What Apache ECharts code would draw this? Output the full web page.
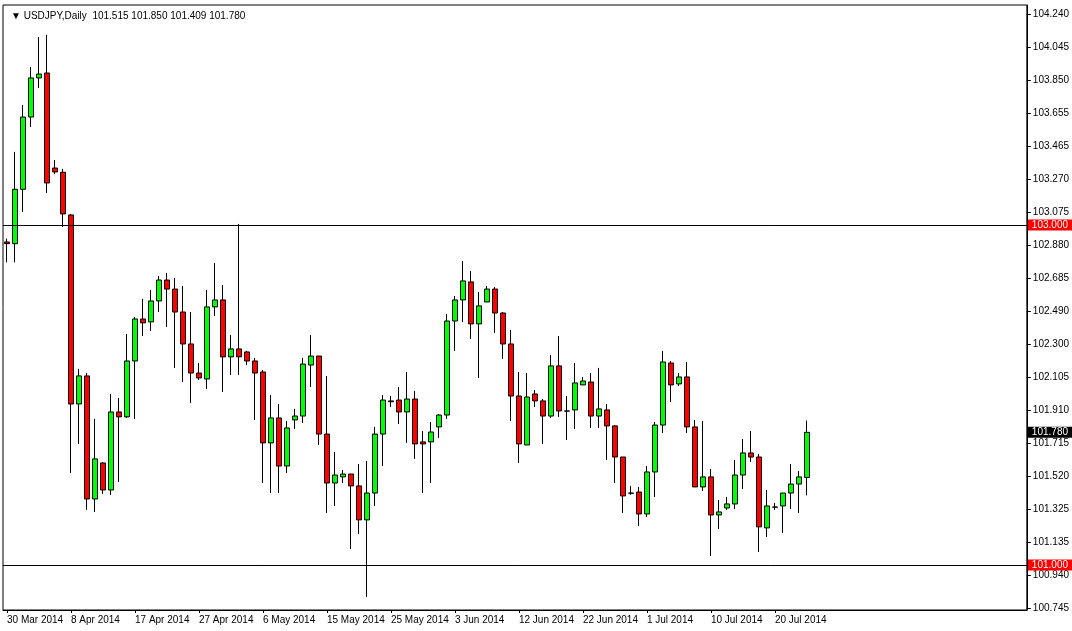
<!DOCTYPE html>
<html>
<head>
<meta charset="utf-8">
<script src="https://cdn.jsdelivr.net/npm/echarts@6/dist/echarts.min.js"></script>
<style>html,body{margin:0;padding:0;background:#fff}#chart{width:1072px;height:631px}</style>
</head>
<body>
<div id="chart"></div>
<script>
// daily bars [open, close, low, high]
var ohlc = [
  [102.90, 102.89, 102.78, 102.92],
  [102.89, 103.21, 102.78, 103.43],
  [103.21, 103.635, 103.077, 103.706],
  [103.635, 103.865, 103.576, 103.929],
  [103.865, 103.888, 103.806, 104.106],
  [103.894, 103.247, 103.188, 104.118],
  [103.335, 103.312, 103.30, 103.382],
  [103.31, 103.065, 102.988, 103.33],
  [103.059, 101.947, 101.541, 103.065],
  [101.947, 102.112, 101.712, 102.153],
  [102.112, 101.388, 101.324, 102.129],
  [101.388, 101.624, 101.312, 101.859],
  [101.60, 101.441, 101.418, 101.606],
  [101.441, 101.90, 101.412, 102.006],
  [101.90, 101.871, 101.488, 101.982],
  [101.871, 102.20, 101.865, 102.359],
  [102.20, 102.447, 101.859, 102.459],
  [102.447, 102.424, 102.347, 102.565],
  [102.43, 102.553, 102.376, 102.618],
  [102.553, 102.676, 102.488, 102.70],
  [102.676, 102.623, 102.40, 102.718],
  [102.623, 102.488, 102.159, 102.688],
  [102.488, 102.30, 102.076, 102.641],
  [102.30, 102.129, 101.953, 102.488],
  [102.129, 102.10, 102.088, 102.188],
  [102.094, 102.518, 102.035, 102.618],
  [102.518, 102.559, 102.465, 102.776],
  [102.559, 102.224, 102.018, 102.647],
  [102.224, 102.271, 102.118, 102.353],
  [102.271, 102.224, 102.118, 103.006],
  [102.253, 102.20, 102.176, 102.26],
  [102.20, 102.129, 101.853, 102.218],
  [102.135, 101.718, 101.482, 102.147],
  [101.718, 101.865, 101.423, 102.0],
  [101.865, 101.582, 101.423, 101.947],
  [101.582, 101.806, 101.541, 101.847],
  [101.853, 101.876, 101.80, 101.918],
  [101.876, 102.182, 101.835, 102.218],
  [102.176, 102.229, 102.047, 102.353],
  [102.229, 101.77, 101.706, 102.229],
  [101.77, 101.482, 101.306, 102.112],
  [101.482, 101.529, 101.347, 101.665],
  [101.518, 101.535, 101.482, 101.559],
  [101.535, 101.465, 101.094, 101.535],
  [101.465, 101.265, 101.182, 101.594],
  [101.265, 101.423, 100.812, 101.612],
  [101.423, 101.77, 101.347, 101.812],
  [101.77, 101.97, 101.582, 102.0],
  [101.965, 101.96, 101.929, 101.994],
  [101.97, 101.90, 101.829, 102.047],
  [101.90, 101.976, 101.718, 102.135],
  [101.976, 101.712, 101.624, 102.024],
  [101.724, 101.712, 101.423, 101.788],
  [101.724, 101.782, 101.482, 101.841],
  [101.812, 101.882, 101.747, 101.888],
  [101.882, 102.435, 101.859, 102.476],
  [102.435, 102.559, 102.259, 102.582],
  [102.559, 102.671, 102.429, 102.788],
  [102.665, 102.418, 102.329, 102.729],
  [102.418, 102.524, 102.10, 102.606],
  [102.547, 102.623, 102.547, 102.641],
  [102.623, 102.482, 102.365, 102.635],
  [102.482, 102.30, 102.212, 102.488],
  [102.30, 101.994, 101.847, 102.382],
  [101.994, 101.712, 101.60, 102.135],
  [101.706, 101.988, 101.706, 102.129],
  [102.006, 101.965, 101.929, 102.029],
  [101.965, 101.876, 101.712, 101.976],
  [101.876, 102.171, 101.865, 102.235],
  [102.171, 101.906, 101.871, 102.347],
  [101.906, 101.905, 101.735, 101.994],
  [101.912, 102.071, 101.80, 102.188],
  [102.059, 102.082, 102.059, 102.106],
  [102.076, 101.876, 101.806, 102.129],
  [101.876, 101.918, 101.806, 102.159],
  [101.912, 101.818, 101.618, 101.947],
  [101.818, 101.635, 101.482, 101.823],
  [101.635, 101.406, 101.306, 101.635],
  [101.423, 101.422, 101.412, 101.465],
  [101.429, 101.30, 101.229, 101.459],
  [101.30, 101.547, 101.282, 101.582],
  [101.547, 101.823, 101.40, 101.841],
  [101.823, 102.194, 101.776, 102.259],
  [102.188, 102.059, 101.959, 102.20],
  [102.065, 102.106, 102.053, 102.129],
  [102.106, 101.812, 101.776, 102.194],
  [101.812, 101.459, 101.459, 101.853],
  [101.459, 101.518, 101.435, 101.847],
  [101.518, 101.294, 101.053, 101.565],
  [101.294, 101.312, 101.212, 101.382],
  [101.335, 101.359, 101.324, 101.40],
  [101.359, 101.529, 101.329, 101.618],
  [101.529, 101.659, 101.447, 101.741],
  [101.659, 101.635, 101.606, 101.788],
  [101.635, 101.224, 101.076, 101.653],
  [101.218, 101.347, 101.165, 101.441],
  [101.341, 101.340, 101.324, 101.365],
  [101.347, 101.423, 101.188, 101.423],
  [101.423, 101.476, 101.329, 101.594],
  [101.476, 101.518, 101.306, 101.553],
  [101.515, 101.780, 101.409, 101.850]
];
var yTicks = [100.745, 100.940, 101.135, 101.325, 101.520, 101.715, 101.910, 102.105, 102.300,
  102.490, 102.685, 102.880, 103.075, 103.270, 103.465, 103.655, 103.850, 104.045, 104.240];
var levels = [103.000, 101.000];
var lastPrice = 101.780;
var totalSlots = 128;

// trading-day labels: MT4 daily bars include Sundays, skip Saturdays
var months = ['Jan','Feb','Mar','Apr','May','Jun','Jul','Aug','Sep','Oct','Nov','Dec'];
var dates = [];
var d = new Date(2014, 2, 30);
while (dates.length < ohlc.length) {
  if (d.getDay() !== 6) dates.push(d.getDate() + ' ' + months[d.getMonth()] + ' 2014');
  d.setDate(d.getDate() + 1);
}
while (dates.length < totalSlots) dates.push('');

var FONT = 'Liberation Sans';
var myChart = echarts.init(document.getElementById('chart'), null, { renderer: 'canvas' });

function priceTag(v, bg, line) {
  return {
    yAxis: v,
    lineStyle: line,
    label: {
      show: true, position: 'end', distance: 1, formatter: v.toFixed(3),
      color: '#fff', backgroundColor: bg, padding: [1, 5, 0, 4],
      fontSize: 10, fontFamily: FONT, opacity: 1
    }
  };
}

var option = {
  animation: false,
  backgroundColor: '#fff',
  title: {
    text: '\u25BC USDJPY,Daily  101.515 101.850 101.409 101.780',
    left: 6, top: 6,
    textStyle: { fontSize: 10, fontWeight: 'normal', color: '#000', fontFamily: FONT }
  },
  grid: { left: 3, right: 45, top: 5, bottom: 21, show: true, borderColor: '#000', borderWidth: 1 },
  xAxis: {
    type: 'category',
    data: dates,
    boundaryGap: true,
    axisLine: { lineStyle: { color: '#000' } },
    axisTick: { show: true, alignWithLabel: true, interval: function (i, v) { return v !== '' && i % 8 === 0; }, length: 3, lineStyle: { color: '#000' } },
    axisLabel: {
      interval: function (i, v) { return v !== '' && i % 8 === 0; },
      align: 'left', margin: 5, color: '#000', fontSize: 10, fontFamily: FONT
    },
    splitLine: { show: false }
  },
  yAxis: {
    type: 'value',
    position: 'right',
    min: 100.735, max: 104.294,
    axisLine: { show: true, lineStyle: { color: '#000' } },
    axisTick: { show: true, length: 4, customValues: yTicks, lineStyle: { color: '#000' } },
    axisLabel: {
      customValues: yTicks, margin: 6, color: '#000', fontSize: 10, fontFamily: FONT,
      formatter: function (v) { return v.toFixed(3); }
    },
    splitLine: { show: false }
  },
  series: [{
    type: 'candlestick',
    data: ohlc,
    barWidth: 5,
    itemStyle: {
      color: '#00ff00', color0: '#ff0000',
      borderColor: '#000', borderColor0: '#000', borderWidth: 1
    },
    markLine: {
      silent: true, symbol: 'none', animation: false,
      lineStyle: { color: '#000', width: 1, type: 'solid' },
      data: [
        priceTag(levels[0], '#ff0000'),
        priceTag(levels[1], '#ff0000'),
        priceTag(lastPrice, '#000', { color: 'rgba(0,0,0,0)', width: 1 })
      ]
    }
  }]
};

myChart.setOption(option);
window.addEventListener('resize', myChart.resize);
</script>
</body>
</html>
